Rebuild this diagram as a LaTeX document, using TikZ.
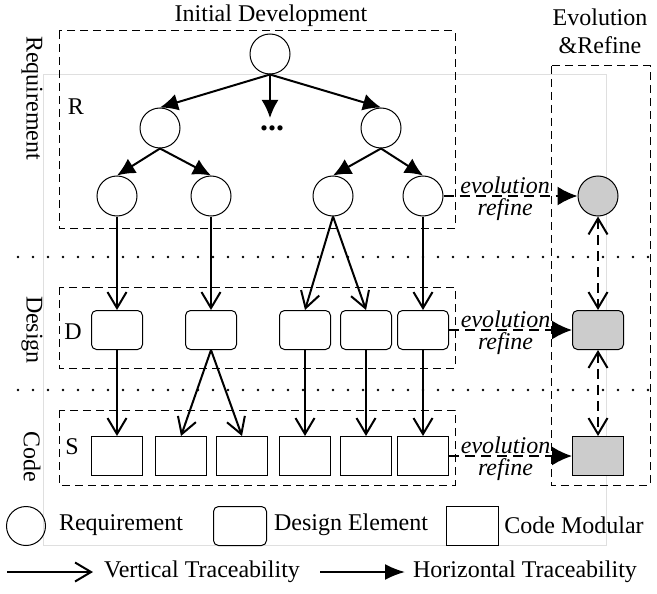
\documentclass[tikz,border=0pt]{standalone}
\usepackage{fontspec}
\setmainfont{Liberation Serif}
\usetikzlibrary{positioning,arrows.meta}

\begin{document}
\begin{tikzpicture}
  [x=0.5pt,y=-0.5pt,font=\fontsize{12}{14}\selectfont,
  req/.style={circle,draw,line width=0.5pt,minimum size=20pt,inner sep=0pt},
  desbox/.style={draw,rounded corners=2.5pt,line width=0.5pt,minimum width=25.5pt,minimum height=19.5pt,inner sep=0pt},
  codebox/.style={draw,line width=0.5pt,minimum width=25.5pt,minimum height=19.5pt,inner sep=0pt},
  evol/.style={fill=gray!40},
  frame/.style={line width=0.5pt,dash pattern=on 4pt off 2.5pt},
  sep/.style={line width=1.3pt,line cap=round,dash pattern=on 0pt off 7.5pt},
  tree/.style={line width=1pt,-{Latex[length=9pt,width=8.5pt]}},
  vtrace/.style={line width=1pt,-{Straight Barb[length=8pt,width=9.5pt]}},
  htrace/.style={line width=1pt,dash pattern=on 5pt off 3pt,-{Latex[length=10pt,width=9.5pt]}},
  etrace/.style={line width=1pt,dash pattern=on 5pt off 3pt,{Straight Barb[length=8pt,width=9.5pt]}-{Straight Barb[length=8pt,width=9.5pt]}},
  hkey/.style={line width=1pt,-{Latex[length=10pt,width=8pt]}},
  lbl/.style={inner sep=0pt,font=\fontsize{12}{14}\itshape\selectfont}]
  \useasboundingbox (0,0) rectangle (657,593);
  \draw[gray!25,line width=0.4pt] (43,74) rectangle (606,545);

  % headings
  \node (init) at (271,16) {Initial Development};
  \node[align=center] (evhead) at (600,31) {Evolution\\\&Refine};
  \node[rotate=-90] (lreq) at (32,98) {Requirement};
  \node[rotate=-90] (ldes) at (32,330) {Design};
  \node[rotate=-90] (lcode) at (32,457) {Code};

  % frames and level separators
  \draw[frame] (59,31) rectangle (455,228);
  \draw[frame] (59,287) rectangle (455,368);
  \draw[frame] (59,410) rectangle (455,485);
  \draw[frame] (551,66) rectangle (650,485);
  \draw[sep] (18,257) -- (657,257);
  \draw[sep] (18,390) -- (657,390);
  \node (labR) at (76,107) {R};
  \node (labD) at (73,332) {D};
  \node (labS) at (72,447) {S};

  % requirements
  \node[req] (r0) at (270,54) {};
  \node[req] (r1) at (160,128) {};
  \node[req] (r2) at (381,128) {};
  \node[font=\fontsize{16}{18}\bfseries\selectfont] (dots) at (272,128) {...};
  \coordinate (dtop) at (270,118);
  \node[req] (r11) at (117,196) {};
  \node[req] (r12) at (211,196) {};
  \node[req] (r21) at (333,196) {};
  \node[req] (r22) at (423,196) {};

  % design elements
  \node[desbox] (d1) at (117,330) {};
  \node[desbox] (d2) at (211,330) {};
  \node[desbox] (d3) at (305,330) {};
  \node[desbox] (d4) at (366,330) {};
  \node[desbox] (d5) at (423,330) {};

  % code modules
  \node[codebox] (s1) at (117,456) {};
  \node[codebox] (s2) at (181,456) {};
  \node[codebox] (s3) at (242,456) {};
  \node[codebox] (s4) at (305,456) {};
  \node[codebox] (s5) at (366,456) {};
  \node[codebox] (s6) at (423,456) {};

  % evolved elements
  \node[req,evol] (er) at (598,196) {};
  \node[desbox,evol] (ed) at (598,330) {};
  \node[codebox,evol] (es) at (598,456) {};

  \draw[tree] (r0.south) -- (r1.north);
  \draw[tree] (r0.south) -- (dtop);
  \draw[tree] (r0.south) -- (r2.north);
  \draw[tree] (r1.south) -- (r11.north);
  \draw[tree] (r1.south) -- (r12.north);
  \draw[tree] (r2.south) -- (r21.north);
  \draw[tree] (r2.south) -- (r22.north);

  \draw[vtrace] (r11.south) -- (d1.north);
  \draw[vtrace] (r12.south) -- (d2.north);
  \draw[vtrace] (r21.south) -- (d3.north);
  \draw[vtrace] (r21.south) -- (d4.north);
  \draw[vtrace] (r22.south) -- (d5.north);
  \draw[vtrace] (d1.south) -- (s1.north);
  \draw[vtrace] (d2.south) -- (s2.north);
  \draw[vtrace] (d2.south) -- (s3.north);
  \draw[vtrace] (d3.south) -- (s4.north);
  \draw[vtrace] (d4.south) -- (s5.north);
  \draw[vtrace] (d5.south) -- (s6.north);

  \draw[htrace] (r22.east) -- node[lbl,above=0.6pt,pos=0.46]{evolution} node[lbl,below=0.6pt,pos=0.46]{refine} (er.west);
  \draw[htrace] (d5.east) -- node[lbl,above=0.6pt,pos=0.46]{evolution} node[lbl,below=0.6pt,pos=0.46]{refine} (ed.west);
  \draw[htrace] (s6.east) -- node[lbl,above=0.6pt,pos=0.46]{evolution} node[lbl,below=0.6pt,pos=0.46]{refine} (es.west);
  \draw[etrace] (er.south) -- (ed.north);
  \draw[etrace] (ed.south) -- (es.north);

  % legend
  \node[req,minimum size=19.5pt] (kreq) at (26,526) {};
  \node (kreqt) at (121,525) {Requirement};
  \node[desbox,minimum width=26.5pt] (kdes) at (240,526) {};
  \node (kdest) at (351,525) {Design Element};
  \node[codebox,minimum width=26pt] (kcode) at (472,526) {};
  \node (kcodet) at (574,525) {Code Modular};
  \coordinate (kv0) at (7,572);
  \coordinate (kv1) at (93,572);
  \draw[vtrace] (kv0) -- (kv1);
  \node (kvt) at (202,572) {Vertical Traceability};
  \coordinate (kh0) at (320,572);
  \coordinate (kh1) at (405,572);
  \draw[hkey] (kh0) -- (kh1);
  \node (kht) at (525,572) {Horizontal Traceability};
\end{tikzpicture}
\end{document}
